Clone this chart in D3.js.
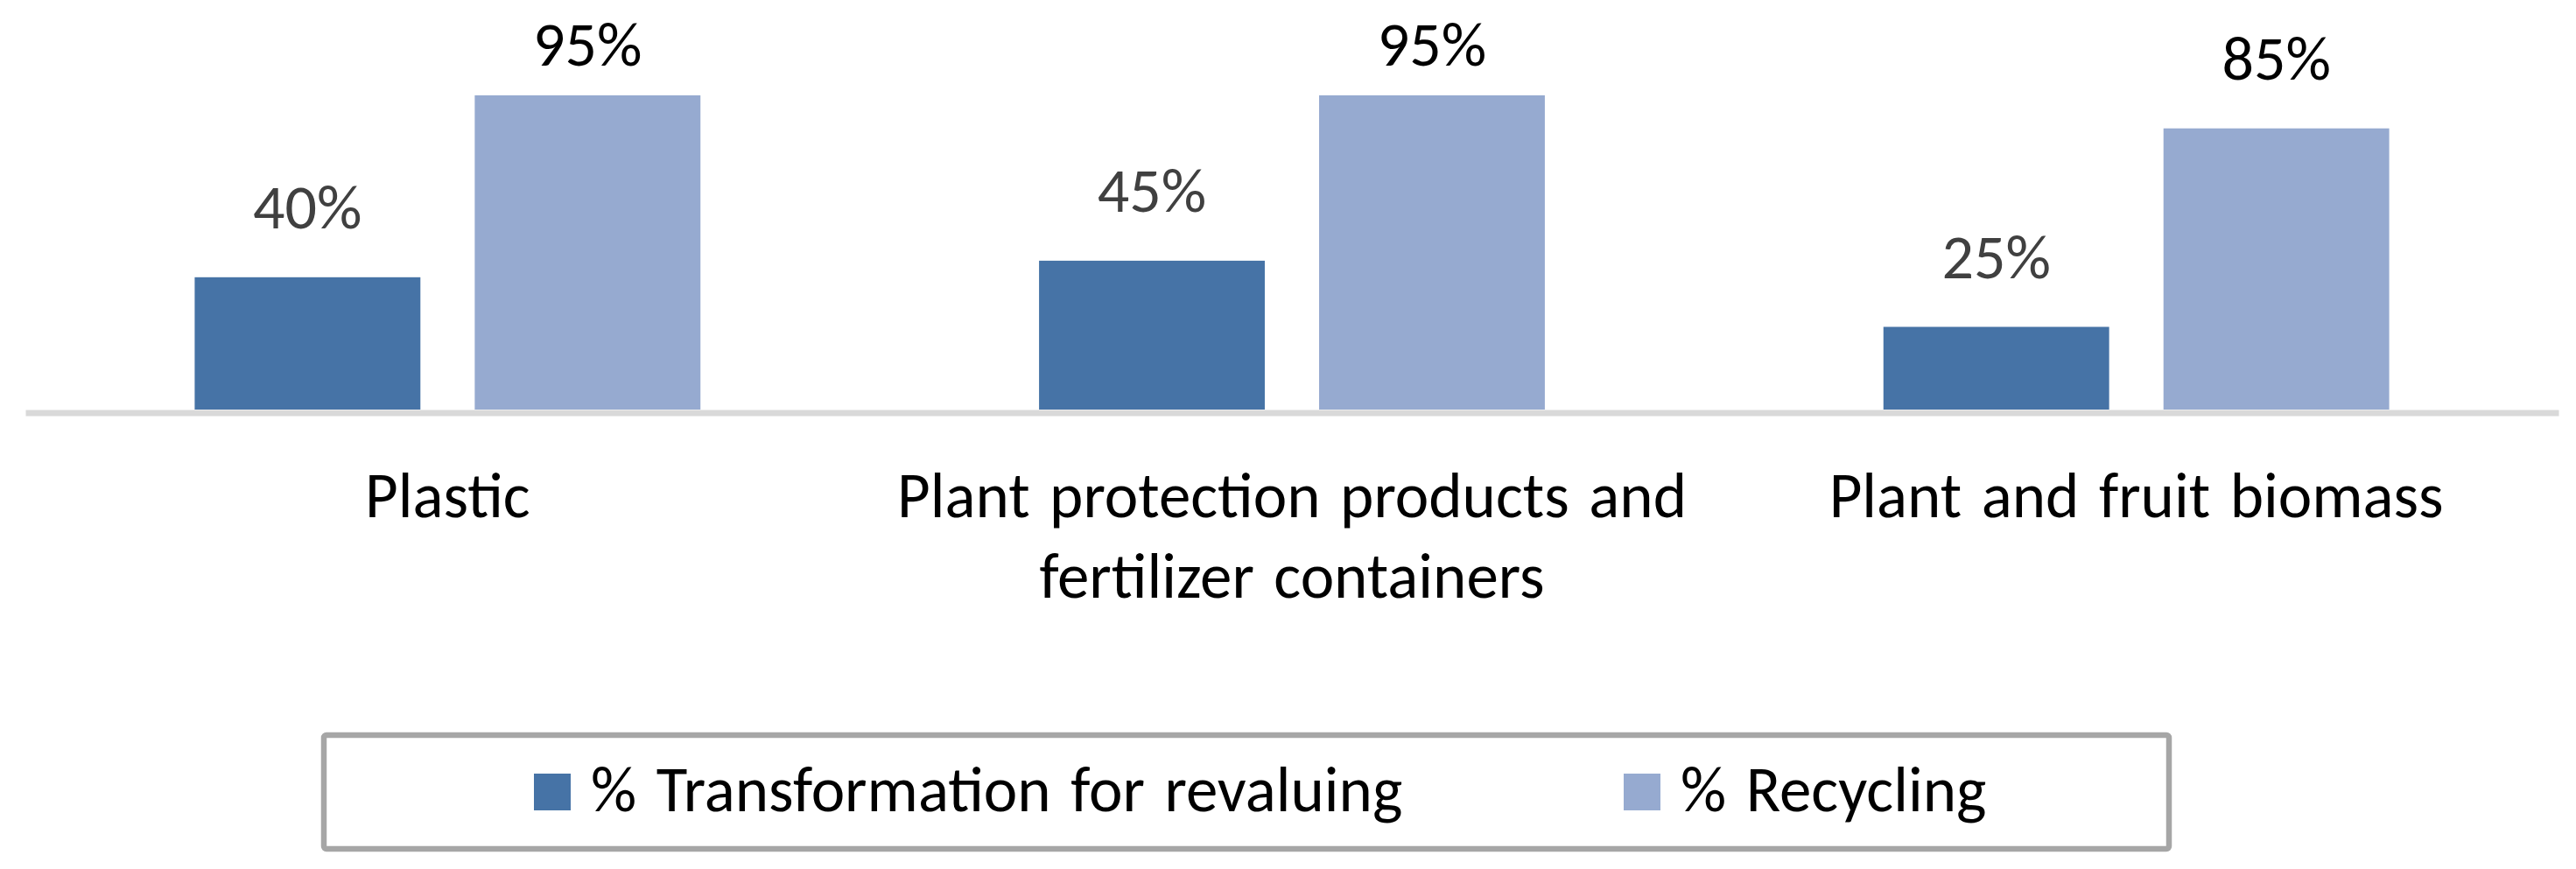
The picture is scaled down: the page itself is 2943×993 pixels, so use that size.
<!DOCTYPE html>
<html>
<head>
<meta charset="utf-8">
<script src="https://cdn.jsdelivr.net/npm/d3@7"></script>
<style>
  html, body { margin: 0; padding: 0; background: #ffffff; }
  svg { display: block; }
  text { font-family: Carlito, Calibri, "Liberation Sans", sans-serif; }
</style>
</head>
<body>
<svg id="chart" width="2943" height="993"></svg>
<script>
// ---- data ----
const categories = ["Plastic", "Plant protection products and fertilizer containers", "Plant and fruit biomass"];
const seriesNames = ["% Transformation for revaluing", "% Recycling"];
const transformation = [0.40, 0.45, 0.25];
const recycling = [0.95, 0.95, 0.85];
const seriesColors = ["#4673a6", "#96aad0"];
const labelColors = ["#404040", "#000000"];

const W = 2943, H = 993;
const svg = d3.select("#chart");

const plot = { left: 29, right: 2923, bottom: 468, top: 90 };

const x0 = d3.scaleBand()
  .domain(categories)
  .range([plot.left, plot.right])
  .paddingInner(0.401)
  .paddingOuter(0.2005);

const x1 = d3.scaleBand()
  .domain(seriesNames)
  .range([0, x0.bandwidth()])
  .paddingInner(0.194)
  .paddingOuter(0);

const y = d3.scaleLinear().domain([0, 1]).range([plot.bottom, plot.top]);

const seriesValues = [transformation, recycling];
const rows = categories.map((c, i) => ({
  category: c,
  values: seriesNames.map((s, k) => ({ series: s, k: k, value: seriesValues[k][i] }))
}));

const pct = d3.format(".0%");

// bars
const groups = svg.append("g").selectAll("g")
  .data(rows).join("g")
  .attr("transform", d => `translate(${x0(d.category)},0)`);

groups.selectAll("rect")
  .data(d => d.values).join("rect")
  .attr("x", d => x1(d.series))
  .attr("y", d => y(d.value))
  .attr("width", x1.bandwidth())
  .attr("height", d => y(0) - y(d.value))
  .attr("fill", d => seriesColors[d.k]);

// value labels
groups.selectAll("text.val")
  .data(d => d.values).join("text")
  .attr("class", "val")
  .attr("x", d => x1(d.series) + x1.bandwidth() / 2)
  .attr("y", d => Math.max(75, y(d.value) - 56))
  .attr("text-anchor", "middle")
  .attr("font-size", 72)
  .attr("fill", d => labelColors[d.k])
  .text(d => pct(d.value));

// category axis
const axis = svg.append("g")
  .attr("transform", `translate(0,${plot.bottom + 3.5})`)
  .call(d3.axisBottom(x0).tickSize(0).tickSizeOuter(0));

axis.select(".domain")
  .attr("stroke", "#d9d9d9")
  .attr("stroke-width", 7);

axis.selectAll(".tick text").each(function (d) {
  const t = d3.select(this);
  t.text(null)
    .attr("font-size", 73)
    .attr("font-family", "Carlito, Calibri, 'Liberation Sans', sans-serif")
    .attr("fill", "#000000")
    .attr("word-spacing", "6px")
    .attr("y", 0)
    .attr("dy", null);
  // greedy word wrap within the band step
  const maxW = x0.step() - 20;
  const words = d.split(" ");
  let lines = [], cur = [];
  const probe = t.append("tspan");
  words.forEach(w => {
    const test = cur.concat([w]).join(" ");
    probe.text(test);
    if (probe.node().getComputedTextLength() > maxW && cur.length) {
      lines.push(cur.join(" "));
      cur = [w];
    } else cur.push(w);
  });
  lines.push(cur.join(" "));
  probe.remove();
  lines.forEach((ln, i) => {
    t.append("tspan")
      .attr("x", 0)
      .attr("y", 119.5 + i * 92)
      .text(ln);
  });
});

// legend
const legend = svg.append("g");
legend.append("rect")
  .attr("x", 370).attr("y", 840)
  .attr("width", 2108).attr("height", 130)
  .attr("rx", 3)
  .attr("fill", "#ffffff")
  .attr("stroke", "#a6a6a6")
  .attr("stroke-width", 6.5);

const legendX = [610, 1855];
const items = legend.selectAll("g.item")
  .data(seriesNames).join("g")
  .attr("class", "item")
  .attr("transform", (d, i) => `translate(${legendX[i]},884)`);

items.append("rect")
  .attr("width", 42).attr("height", 42)
  .attr("fill", (d, i) => seriesColors[i]);

items.append("text")
  .attr("x", 65)
  .attr("y", 43)
  .attr("font-size", 73)
  .attr("word-spacing", "6px")
  .attr("fill", "#000000")
  .text(d => d);
</script>
</body>
</html>
